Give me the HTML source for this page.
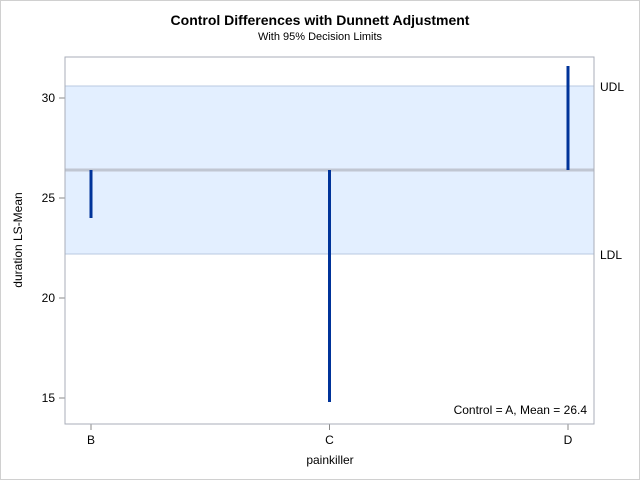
<!DOCTYPE html>
<html><head><meta charset="utf-8"><style>
body{margin:0;background:#fff;font-family:"Liberation Sans",sans-serif}
svg text{font-family:"Liberation Sans",sans-serif}
</style></head><body>
<svg width="640" height="480" id="c">
<rect x="0.5" y="0.5" width="639" height="479" fill="#fff" stroke="#d0d0d0"/>
<text x="320" y="25" text-anchor="middle" font-size="14" font-weight="bold">Control Differences with Dunnett Adjustment</text>
<text x="320" y="40" text-anchor="middle" font-size="11">With 95% Decision Limits</text>
<g id="plot"></g>
<text x="330" y="464" text-anchor="middle" font-size="12">painkiller</text>
<text transform="translate(22,240) rotate(-90)" text-anchor="middle" font-size="12">duration LS-Mean</text>
<text x="587" y="414" text-anchor="end" font-size="12">Control = A, Mean = 26.4</text>
</svg>
<script>
const categories=["B","C","D"];
const lsMeans=[24.0,14.8,31.6];
const controlMean=26.4;
const udl=30.6, ldl=22.2;
const yTicks=[15,20,25,30];
const L=65,R=594,T=57,B=424;
const y=v=>398-(v-15)*20;
const x=i=>91+i*238.5;
const ns="http://www.w3.org/2000/svg";
const g=document.getElementById('plot');
function mk(t,a){const e=document.createElementNS(ns,t);for(const k in a)e.setAttribute(k,a[k]);g.appendChild(e);return e;}
let e;
e=mk('rect',{x:L,y:y(udl),width:R-L,height:y(ldl)-y(udl),fill:'#e3efff'});


e=mk('line',{x1:L,x2:R,y1:y(udl),y2:y(udl),stroke:'#b8c8e0','stroke-width':1});


e=mk('line',{x1:L,x2:R,y1:y(ldl),y2:y(ldl),stroke:'#b8c8e0','stroke-width':1});


e=mk('line',{x1:L,x2:R,y1:y(controlMean),y2:y(controlMean),stroke:'#c0c6d2','stroke-width':3});


e=mk('text',{x:600,y:y(udl)+5,'font-size':12});e.textContent='UDL';


e=mk('text',{x:600,y:y(ldl)+5,'font-size':12});e.textContent='LDL';


categories.forEach((c,i)=>{
  const b=mk('line',{x1:x(i),x2:x(i),y1:y(controlMean),y2:y(lsMeans[i]),stroke:'#003399','stroke-width':3});
  
  
  const t=mk('line',{x1:x(i),x2:x(i),y1:B,y2:B+6,stroke:'#888'});
  
  
  const l=mk('text',{x:x(i),y:B+20,'text-anchor':'middle','font-size':12});l.textContent=c;
  
  
});
yTicks.forEach(v=>{
  const t=mk('line',{x1:L-6,x2:L,y1:y(v),y2:y(v),stroke:'#888'});
  
  
  const l=mk('text',{x:L-10,y:y(v)+4,'text-anchor':'end','font-size':12});l.textContent=v;
  
  
});
e=mk('rect',{x:L,y:T,width:R-L,height:B-T,fill:'none',stroke:'#a8aeb8'});


</script>
</body></html>
